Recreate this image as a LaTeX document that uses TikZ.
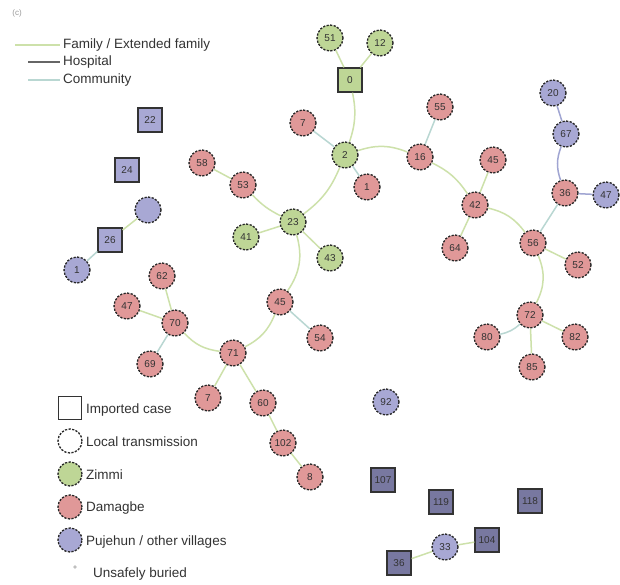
\documentclass[tikz,border=0pt]{standalone}
\usepackage{fontspec}
\setmainfont{Liberation Sans}
\begin{document}
\begin{tikzpicture}[x=1pt,y=-1pt,
  case/.style={circle,draw=black!85,dash pattern=on 2.2pt off 1.4pt,line width=1.3pt,minimum size=26pt,inner sep=0pt,font=\fontsize{10}{10}\selectfont,text=black!80},
  imp/.style={rectangle,draw=black!80,line width=1.3pt,minimum size=24pt,inner sep=0pt,font=\fontsize{10}{10}\selectfont,text=black!80},
  zim/.style={fill=zimg},
  dam/.style={fill=damr},
  puj/.style={fill=pujb},
  pujd/.style={fill=pujd},
  fam/.style={draw=famg,line width=1.5pt},
  hosp/.style={draw=hospc,line width=1.5pt},
  comm/.style={draw=commc,line width=1.5pt},
  legtext/.style={anchor=west,font=\fontsize{13.5}{13.5}\selectfont,text=black!80,inner sep=1pt}
]
\definecolor{zimg}{RGB}{190,214,150}
\definecolor{damr}{RGB}{224,152,152}
\definecolor{pujb}{RGB}{168,168,212}
\definecolor{pujd}{RGB}{120,120,160}
\definecolor{famg}{RGB}{205,225,170}
\definecolor{hospc}{RGB}{160,165,210}
\definecolor{commc}{RGB}{185,215,210}
\useasboundingbox (0,0) rectangle (620,584);
\fill[white] (0,0) rectangle (620,584);

% top legend
\node[font=\fontsize{8}{8}\selectfont,text=black!40] (lab) at (17,13) {(c)};
\coordinate (f1) at (15,45); \coordinate (f2) at (60,45);
\coordinate (h1) at (28,62); \coordinate (h2) at (60,62);
\coordinate (c1) at (28,80); \coordinate (c2) at (60,80);
\draw[fam] (f1) -- (f2);
\draw[draw=black!60,line width=1.2pt] (h1) -- (h2);
\draw[comm] (c1) -- (c2);
\node[legtext] (tf) at (62,45) {Family / Extended family};
\node[legtext] (th) at (62,62) {Hospital};
\node[legtext] (tc) at (62,80) {Community};

% nodes
\node[case,zim] (n51) at (330,38) {51};
\node[case,zim] (n12) at (380,43) {12};
\node[imp,zim] (n0) at (350,80) {0};
\node[case,dam] (n7) at (303,123) {7};
\node[case,zim] (n2) at (345,155) {2};
\node[case,dam] (n1) at (367,187) {1};
\node[case,dam] (n55) at (440,107) {55};
\node[case,dam] (n16) at (420,157) {16};
\node[case,dam] (n45a) at (493,160) {45};
\node[case,dam] (n42) at (475,205) {42};
\node[case,puj] (n20) at (553,93) {20};
\node[case,puj] (n67) at (566,134) {67};
\node[case,dam] (n36) at (565,193) {36};
\node[case,puj] (n47a) at (606,195) {47};
\node[case,dam] (n56) at (533,243) {56};
\node[case,dam] (n52) at (578,265) {52};
\node[case,dam] (n64) at (455,248) {64};
\node[case,dam] (n72) at (530,315) {72};
\node[case,dam] (n80) at (487,337) {80};
\node[case,dam] (n82) at (575,337) {82};
\node[case,dam] (n85) at (532,367) {85};
\node[imp,puj] (n22) at (150,120) {22};
\node[imp,puj] (n24) at (127,170) {24};
\node[case,dam] (n58) at (202,163) {58};
\node[case,dam] (n53) at (243,185) {53};
\node[case,zim] (n23) at (293,222) {23};
\node[case,zim] (n41) at (246,237) {41};
\node[case,zim] (n43) at (330,258) {43};
\node[case,puj] (pa) at (148,210) {};
\node[imp,puj] (n26) at (110,240) {26};
\node[case,puj] (pb) at (77,270) {1};
\node[case,dam] (n62) at (162,276) {62};
\node[case,dam] (n47b) at (127,306) {47};
\node[case,dam] (n70) at (175,323) {70};
\node[case,dam] (n69) at (150,364) {69};
\node[case,dam] (n45) at (280,302) {45};
\node[case,dam] (n54) at (320,338) {54};
\node[case,dam] (n71) at (233,353) {71};
\node[case,dam] (n7b) at (208,398) {7};
\node[case,dam] (n60) at (263,403) {60};
\node[case,dam] (n102) at (283,443) {102};
\node[case,dam] (n8) at (310,477) {8};
\node[case,puj] (n92) at (386,402) {92};
\node[imp,pujd] (n107) at (383,480) {107};
\node[imp,pujd] (n119) at (441,502) {119};
\node[imp,pujd] (n118) at (530,501) {118};
\node[imp,pujd] (n104) at (487,540) {104};
\node[case,puj] (n33) at (445,547) {33};
\node[imp,pujd] (n36b) at (399,563) {36};

% edges
\draw[fam] (n0) -- (n51);
\draw[fam] (n0) -- (n12);
\draw[fam] (n0) to[bend left=15] (n2);
\draw[comm] (n2) -- (n7);
\draw[comm] (n2) -- (n1);
\draw[fam] (n2) to[bend left=20] (n16);
\draw[fam] (n2) to[bend left=15] (n23);
\draw[comm] (n16) -- (n55);
\draw[fam] (n16) to[bend left=15] (n42);
\draw[fam] (n42) -- (n45a);
\draw[fam] (n42) -- (n64);
\draw[fam] (n42) to[bend left=20] (n56);
\draw[comm] (n56) -- (n36);
\draw[hosp] (n36) to[bend left=20] (n67);
\draw[hosp] (n67) -- (n20);
\draw[hosp] (n36) -- (n47a);
\draw[fam] (n56) -- (n52);
\draw[fam] (n56) to[bend left=25] (n72);
\draw[comm] (n72) to[bend left=15] (n80);
\draw[fam] (n72) -- (n82);
\draw[fam] (n72) -- (n85);
\draw[fam] (n23) to[bend left=10] (n53);
\draw[fam] (n53) -- (n58);
\draw[fam] (n23) -- (n41);
\draw[fam] (n23) -- (n43);
\draw[fam] (n23) to[bend left=25] (n45);
\draw[comm] (n45) -- (n54);
\draw[fam] (n45) to[bend left=20] (n71);
\draw[fam] (n71) to[bend left=20] (n70);
\draw[fam] (n70) -- (n62);
\draw[fam] (n70) -- (n47b);
\draw[comm] (n70) -- (n69);
\draw[fam] (n71) -- (n7b);
\draw[fam] (n71) -- (n60);
\draw[fam] (n60) -- (n102);
\draw[fam] (n102) -- (n8);
\draw[fam] (n26) -- (pa);
\draw[comm] (n26) -- (pb);
\draw[fam] (n33) -- (n36b);
\draw[fam] (n33) -- (n104);

% bottom legend
\node[imp,minimum size=23pt] (l1) at (70,408) {};
\node[case,minimum size=24pt] (l2) at (70,441) {};
\node[case,zim,minimum size=24pt] (l3) at (70,474) {};
\node[case,dam,minimum size=24pt] (l4) at (70,507) {};
\node[case,puj,minimum size=24pt] (l5) at (70,540) {};
\node[circle,fill=black!25,inner sep=1.3pt] (l6) at (75,567) {};
\node[legtext] (t1) at (85,410) {Imported case};
\node[legtext] (t2) at (85,442) {Local transmission};
\node[legtext] (t3) at (85,475) {Zimmi};
\node[legtext] (t4) at (85,508) {Damagbe};
\node[legtext] (t5) at (85,542) {Pujehun / other villages};
\node[legtext] (t6) at (92,574) {Unsafely buried};
\end{tikzpicture}
\end{document}
